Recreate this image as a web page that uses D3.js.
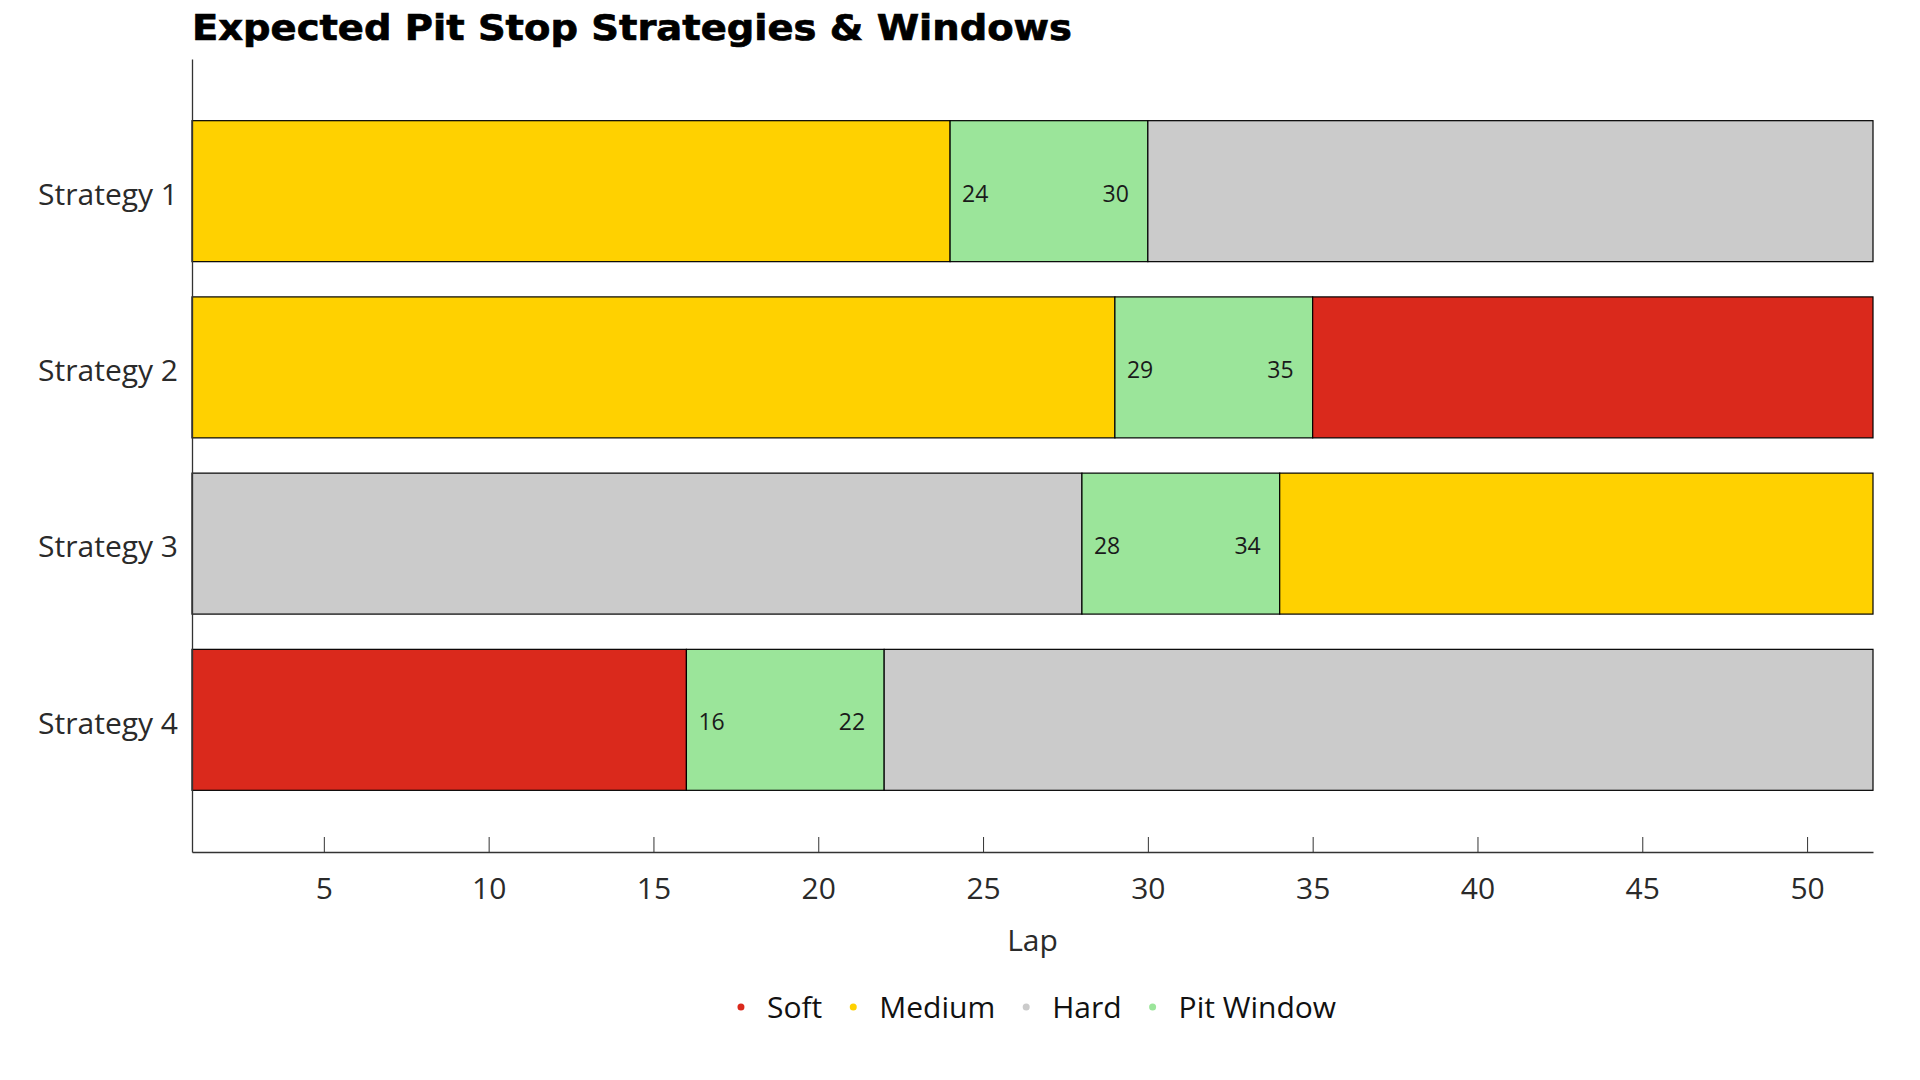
<!DOCTYPE html>
<html>
<head>
<meta charset="utf-8">
<script src="https://cdn.jsdelivr.net/npm/d3@7"></script>
<style>
  html, body { margin: 0; padding: 0; background: #fff; }
  svg { display: block; }
</style>
</head>
<body>
<svg id="chart"></svg>
<script>
// --------------------
//  data
// --------------------
const strategies = ["Strategy 1", "Strategy 2", "Strategy 3", "Strategy 4"];
const firstStint = ["Medium", "Medium", "Hard", "Soft"];   // compound before the stop
const lastStint = ["Hard", "Soft", "Medium", "Hard"];      // compound after the stop
const windowOpen = [24, 29, 28, 16];
const windowClose = [30, 35, 34, 22];
const raceLaps = [1, 52];
const lapTicks = [5, 10, 15, 20, 25, 30, 35, 40, 45, 50];

const legendKeys = ["Soft", "Medium", "Hard", "Pit Window"];
const legendColors = ["#DA291C", "#FFD100", "#CBCBCB", "#9BE59A"];

// --------------------
//  setup
// --------------------
const width = 1920;
const height = 1080;
const margin = {top: 59, right: 47, bottom: 228, left: 192};
const font = "'Open Sans', 'Noto Sans', sans-serif";

const svg = d3.select("#chart")
    .attr("width", width)
    .attr("height", height);

const color = d3.scaleOrdinal(legendKeys, legendColors);

const x = d3.scaleLinear()
    .domain(raceLaps)
    .range([margin.left, width - margin.right]);

const y = d3.scaleBand()
    .domain(strategies)
    .range([margin.top, height - margin.bottom])
    .paddingInner(0.2)
    .paddingOuter(0.35);

// segments: stint 1 / pit window / stint 2
const segments = [];
strategies.forEach((s, i) => {
    segments.push({strategy: s, key: firstStint[i], from: raceLaps[0], to: windowOpen[i]});
    segments.push({strategy: s, key: "Pit Window", from: windowOpen[i], to: windowClose[i]});
    segments.push({strategy: s, key: lastStint[i], from: windowClose[i], to: raceLaps[1]});
});

// --------------------
//  bars
// --------------------
svg.append("g")
    .selectAll("rect")
    .data(segments)
    .join("rect")
    .attr("x", d => x(d.from))
    .attr("y", d => y(d.strategy))
    .attr("width", d => x(d.to) - x(d.from))
    .attr("height", y.bandwidth())
    .attr("fill", d => color(d.key))
    .attr("stroke", "#000")
    .attr("stroke-width", 1.2);

// pit window lap labels
const pitLabels = svg.append("g")
    .attr("font-family", font)
    .attr("font-size", 23)
    .attr("fill", "#1a1a1a");

pitLabels.selectAll(".open")
    .data(strategies)
    .join("text")
    .attr("class", "open")
    .attr("x", (d, i) => x(windowOpen[i]) + 12)
    .attr("y", d => y(d) + y.bandwidth() / 2)
    .attr("dy", "0.46em")
    .text((d, i) => windowOpen[i]);

pitLabels.selectAll(".close")
    .data(strategies)
    .join("text")
    .attr("class", "close")
    .attr("x", (d, i) => x(windowClose[i]) - 19)
    .attr("y", d => y(d) + y.bandwidth() / 2)
    .attr("dy", "0.46em")
    .attr("text-anchor", "end")
    .text((d, i) => windowClose[i]);

// --------------------
//  axes
// --------------------
const xAxis = svg.append("g")
    .attr("transform", `translate(0,${height - margin.bottom})`)
    .call(d3.axisBottom(x).tickValues(lapTicks).tickSize(-15).tickPadding(26).tickSizeOuter(0));

xAxis.select(".domain").attr("stroke", "#333").attr("stroke-width", 1.3);
xAxis.selectAll(".tick line").attr("stroke", "#333");
xAxis.selectAll(".tick text")
    .attr("font-family", font)
    .attr("font-size", 30)
    .attr("fill", "#2a2a2a");

const yAxis = svg.append("g")
    .attr("transform", `translate(${margin.left},0)`)
    .call(d3.axisLeft(y).tickSize(0).tickPadding(14));

yAxis.select(".domain").attr("stroke", "#333").attr("stroke-width", 1.3);
yAxis.selectAll(".tick text")
    .attr("font-family", font)
    .attr("font-size", 30)
    .attr("dy", "0.46em")
    .attr("fill", "#2a2a2a");

// axis title
svg.append("text")
    .attr("x", (x.range()[0] + x.range()[1]) / 2)
    .attr("y", 951)
    .attr("text-anchor", "middle")
    .attr("font-family", font)
    .attr("font-size", 30)
    .attr("fill", "#2a2a2a")
    .text("Lap");

// title
svg.append("text")
    .attr("x", 192)
    .attr("y", 40)
    .attr("font-family", "'DejaVu Sans', sans-serif")
    .attr("font-weight", "bold")
    .attr("font-size", 35)
    .attr("textLength", 880)
    .attr("lengthAdjust", "spacingAndGlyphs")
    .attr("fill", "#000")
    .attr("stroke", "#000")
    .attr("stroke-width", 0.7)
    .text("Expected Pit Stop Strategies & Windows");

// --------------------
//  legend
// --------------------
const legend = svg.append("g")
    .attr("font-family", font)
    .attr("font-size", 30)
    .attr("fill", "#111");

const items = legend.selectAll("g")
    .data(legendKeys)
    .join("g");

items.append("circle")
    .attr("r", 3.5)
    .attr("fill", d => color(d));

items.append("text")
    .attr("x", 26)
    .attr("dy", "0.36em")
    .text(d => d);

// lay items out side by side, centred under the plot
let offset = 0;
const positions = [];
items.each(function() {
    positions.push(offset);
    const w = d3.select(this).select("text").node().getComputedTextLength();
    offset += 26 + w + 31;
});
const total = offset - 31;
const start = (x.range()[0] + x.range()[1]) / 2 - total / 2 + 6;
items.attr("transform", (d, i) => `translate(${start + positions[i]},1007)`);
</script>
</body>
</html>
